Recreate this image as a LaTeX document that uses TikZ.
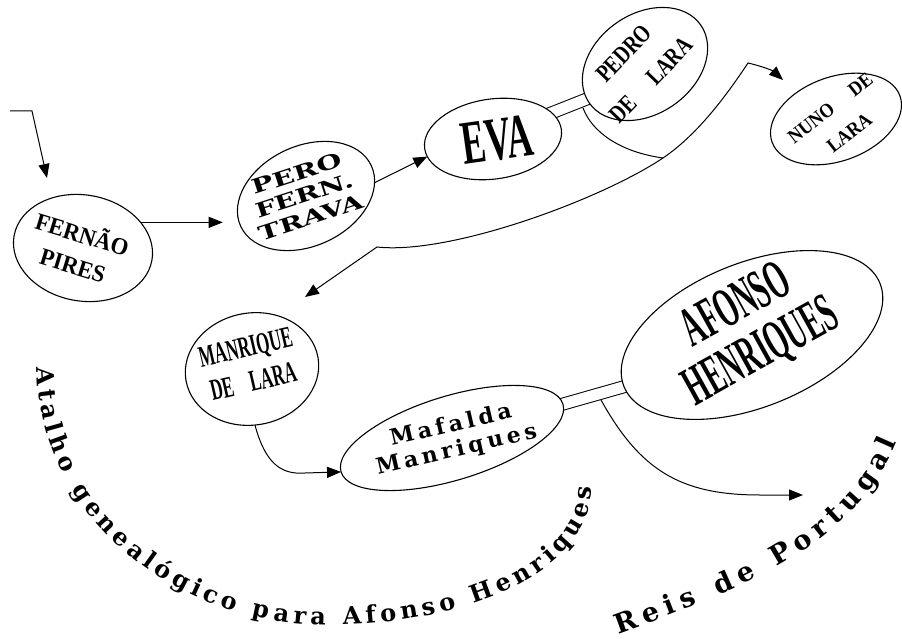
\documentclass[tikz,border=0pt]{standalone}
\usepackage{fontspec}
\setmainfont{Liberation Serif}
\newfontfamily\slabfont{DejaVu Serif}
\newfontfamily\spacedfont{DejaVu Serif}[LetterSpace=18]
\usepackage{graphicx}
\usetikzlibrary{arrows.meta,shapes.geometric,decorations.text,calc}
\pgfdeclarelayer{bg}
\pgfsetlayers{bg,main}
\newcommand\condtxt[4]{\scalebox{#1}[1]{\fontsize{#2}{#3}\selectfont\bfseries\begin{tabular}{@{}c@{}}#4\end{tabular}}}
\newcommand\slabtxt[4]{\scalebox{#1}[1]{\slabfont\bfseries\fontsize{#2}{#3}\selectfont\begin{tabular}{@{}c@{}}#4\end{tabular}}}
\newcommand\atfont{\slabfont\bfseries\fontsize{24}{24}\selectfont}
\newcommand\reisfont{\slabfont\bfseries\fontsize{27}{27}\selectfont}
\begin{document}
\begin{tikzpicture}[x=1pt,y=-1pt,
  oval/.style={draw, ellipse, fill=white, line width=1.1pt, inner sep=0pt, outer sep=0pt},
  conn/.style={line width=1pt},
  arr/.style={conn, -{Triangle[length=14pt,width=11pt]}},
  both/.style={conn, {Triangle[length=14pt,width=11pt]}-{Triangle[length=14pt,width=11pt]}},
  wed/.style={line width=1pt, double=white, double distance=11pt},
  lbl/.style={inner sep=0pt}]
\begin{pgfonlayer}{bg}
\fill[white] (0,0) rectangle (902,639);
\end{pgfonlayer}
\useasboundingbox (0,0) rectangle (902,639);

% ellipses
\node[oval, minimum width=140pt, minimum height=106pt, rotate=-10] (fernao) at (83,248) {};
\node[oval, minimum width=144pt, minimum height=100pt, rotate=25] (pero) at (306,196) {};
\node[oval, minimum width=138pt, minimum height=80pt, rotate=8] (eva) at (493,139) {};
\node[oval, minimum width=136pt, minimum height=100pt, rotate=35] (pedro) at (645,64) {};
\node[oval, minimum width=136pt, minimum height=84pt, rotate=20] (nuno) at (836,119) {};
\node[oval, minimum width=134pt, minimum height=112pt, rotate=10] (manrique) at (252,369) {};
\node[oval, minimum width=232pt, minimum height=84pt, rotate=17] (mafalda) at (452,438) {};
\node[oval, minimum width=276pt, minimum height=144pt, rotate=22] (afonso) at (752,335) {};

% texts
\node[lbl, rotate=-17] (fernaoT) at (77,252) {\condtxt{0.95}{24}{32}{FERNÃO\\PIRES}};
\node[lbl, rotate=18] (peroT) at (305,198) {\slabtxt{1.45}{20}{23}{PERO\\FERN.\\TRAVA}};
\node[lbl, rotate=8] (evaT) at (497,140) {\scalebox{0.58}[1]{\fontsize{62}{62}\selectfont\bfseries EVA}};
\node[lbl, rotate=46] (pedroT) at (638,67) {\condtxt{0.78}{25}{38}{PEDRO\\DE\hspace{1.3em}LARA}};
\node[lbl, rotate=38] (nunoT) at (840,121) {\condtxt{0.9}{20}{31}{NUNO\hspace{1.3em}DE\\LARA}};
\node[lbl, rotate=13] (manriqueT) at (250,367) {\condtxt{0.56}{30}{35}{MANRIQUE\\DE\hspace{1em}LARA}};
\node[lbl, rotate=13] (mafaldaT) at (454,439) {\spacedfont\bfseries\fontsize{22}{25}\selectfont\begin{tabular}{@{}c@{}}Mafalda\\Manriques\end{tabular}};
\node[lbl, rotate=29] (afonsoT) at (751,333) {\condtxt{0.5}{56}{52}{AFONSO\\HENRIQUES}};

% connectors
\coordinate (in1) at (10,111);
\coordinate (in2) at (32,111);
\coordinate (intip) at (47,178);
\coordinate (pj) at (583,108);
\coordinate (j) at (663,158);
\coordinate (hub) at (377,247);
\coordinate (corner) at (748,63);
\coordinate (mtip) at (305,297);
\coordinate (ntip) at (783,80);
\coordinate (mj) at (601,400);
\coordinate (rtip) at (803,495);
\begin{pgfonlayer}{bg}
\draw[arr] (in1) -- (in2) -- (intip);
\draw[arr, shorten >=18pt] (fernao.34) -- (fernao.34 -| pero.west);
\draw[arr] (pero.-14) -- (eva.187);
\draw[wed, shorten <=-6pt, shorten >=-6pt] (eva.16) -- (pedro.176);
\draw[conn] (pj) .. controls (592,132) and (620,152) .. (j);
\draw[both] (mtip) -- (hub) .. controls (450,255) and (600,200) .. (j)
  .. controls (700,133) and (730,90) .. (corner)
  .. controls (765,67) and (773,71) .. (ntip);
\draw[arr] (manrique.-97) .. controls (265,462) and (280,475) .. (305,473) -- (mafalda.west);
\draw[wed, shorten <=-6pt, shorten >=-6pt] (mafalda.east) -- (afonso.west);
\draw[arr] (mj) .. controls (640,470) and (680,495) .. (760,495) -- (rtip);
\end{pgfonlayer}

% curved captions
\path[decorate, decoration={text along path, text={|\atfont|Atalho genealógico para Afonso Henriques}, text align={fit to path}}]
  (37,367) .. controls (37,510) and (168,625) .. (330,625) .. controls (450,625) and (590,580) .. (592,487);
\path[decorate, decoration={text along path, text={|\reisfont|Reis de Portugal}, text align={fit to path}}]
  (618,634) .. controls (760,583) and (856,540) .. (897,442);
\end{tikzpicture}
\end{document}
